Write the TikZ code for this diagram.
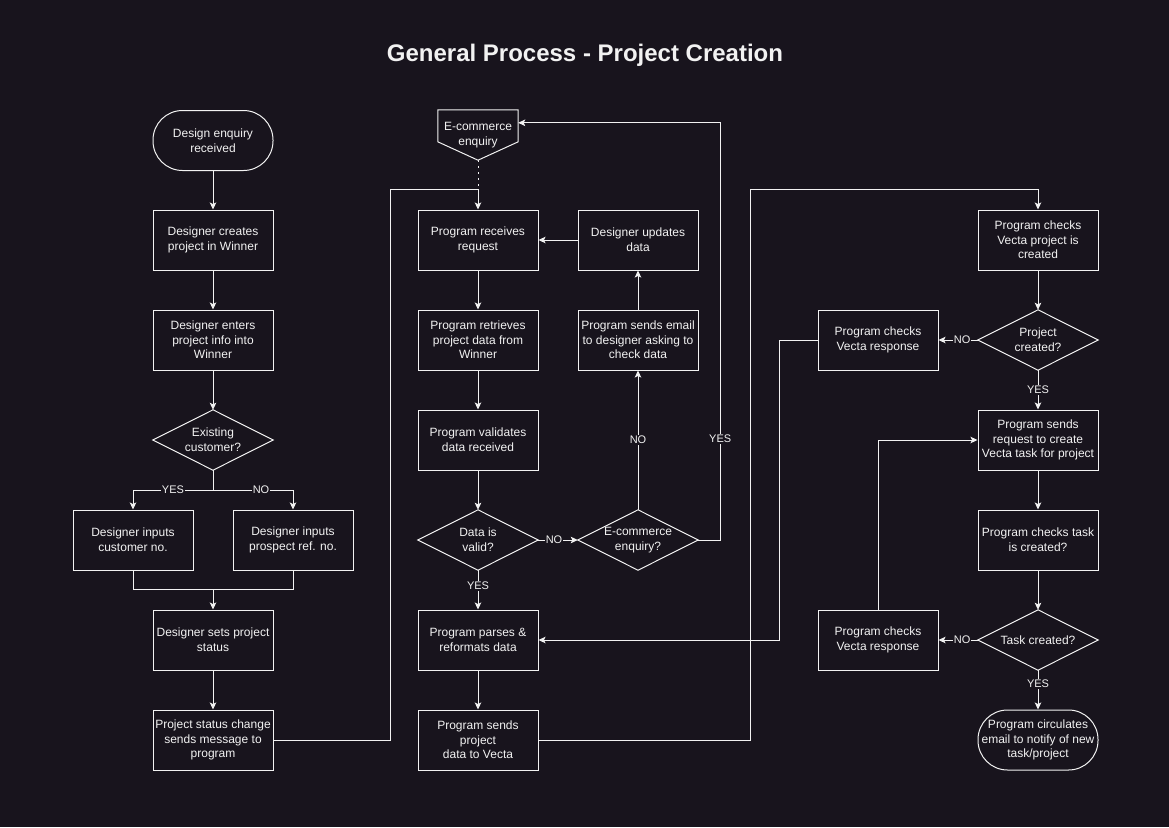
\documentclass[tikz,border=0pt]{standalone}
\usepackage{fontspec}
\setmainfont{Liberation Sans}
\usetikzlibrary{arrows.meta,calc}
\definecolor{bg}{HTML}{18141D}
\definecolor{fg}{HTML}{F2F2F2}
\begin{document}
\begin{tikzpicture}[x=1pt,y=-1pt,
  every node/.style={text=fg, font=\fontsize{12}{14.6}\selectfont},
  box/.style={draw=fg, line width=1pt, rectangle, minimum width=120pt, minimum height=60pt, inner sep=1pt, align=center},
  term/.style={box, rounded corners=29.5pt},
  dia/.style={rectangle, minimum width=120pt, minimum height=60pt, inner sep=0pt, align=center},
  frame/.style={draw=fg, line width=1pt},
  conn/.style={draw=fg, line width=1pt, -{Stealth[length=7pt,width=6.5pt,inset=1.5pt]}},
  lbl/.style={fill=bg, inner sep=1pt, font=\fontsize{11}{12}\selectfont}
]
\fill[bg] (0,0) rectangle (1169,827);
\useasboundingbox (0,0) rectangle (1169,827);

\node[font=\bfseries\fontsize{24}{28}\selectfont] (title) at (585,55) {General Process - Project Creation};

% column 1
\node[term] (start) at (213,140.5) {Design enquiry\\received};
\node[box] (create) at (213,240) {Designer creates\\project in Winner};
\node[box] (enter) at (213,340) {Designer enters\\project info into\\Winner};
\node[dia] (d1) at (213,440) {Existing\\customer?};
\node[box] (cust) at (133,540) {Designer inputs\\customer no.};
\node[box] (prosp) at (293,540) {Designer inputs\\prospect ref. no.};
\node[box] (status) at (213,640) {Designer sets project\\status};
\node[box] (change) at (213,740) {Project status change\\sends message to\\program};

% column 2
\node[rectangle, minimum width=80pt, minimum height=50pt, inner sep=0pt, align=center] (ec) at (478,135) {E-commerce\\enquiry};
\node[box] (recv) at (478,240) {Program receives\\request};
\node[box] (upd) at (638,240) {Designer updates\\data};
\node[box] (retr) at (478,340) {Program retrieves\\project data from\\Winner};
\node[box] (mail) at (638,340) {Program sends email\\to designer asking to\\check data};
\node[box] (valid) at (478,440) {Program validates\\data received};
\node[dia] (d2) at (478,540) {Data is\\valid?};
\node[dia] (d3) at (638,540) {E-commerce\\enquiry?};
\node[box] (parse) at (478,640) {Program parses \&\\reformats data};
\node[box] (send) at (478,740) {Program sends\\project\\data to Vecta};

% column 3
\node[box] (vchk) at (1038,240) {Program checks\\Vecta project is\\created};
\node[dia] (d4) at (1038,340) {Project\\created?};
\node[box] (resp1) at (878,340) {Program checks\\Vecta response};
\node[box] (req) at (1038,440) {Program sends\\request to create\\Vecta task for project};
\node[box] (tchk) at (1038,540) {Program checks task\\is created?};
\node[dia] (d5) at (1038,640) {Task created?};
\node[box] (resp2) at (878,640) {Program checks\\Vecta response};
\node[term] (final) at (1038,740) {Program circulates\\email to notify of new\\task/project};

% diamonds
\foreach \n in {d1,d2,d3,d4,d5}
  \draw[frame] (\n.north) -- (\n.east) -- (\n.south) -- (\n.west) -- cycle;
% off-page connector
\draw[frame] (ec.north west) -- (ec.north east) -- ($(ec.north east)+(0,32)$) -- (ec.south) -- ($(ec.north west)+(0,32)$) -- cycle;

% connectors column 1
\draw[conn] (start) -- (create);
\draw[conn] (create) -- (enter);
\draw[conn] (enter) -- (d1.north);
\draw[conn] (d1.south) -- ++(0,20) -| node[lbl, pos=0.25]{YES} (cust.north);
\draw[conn] (d1.south) -- ++(0,20) -| node[lbl, pos=0.3]{NO} (prosp.north);
\coordinate (m) at ($(status.north)+(0,-20)$);
\draw[frame] (cust.south) |- (m) -| (prosp.south);
\draw[conn] (m) -- (status.north);
\draw[conn] (status) -- (change);
\coordinate (jn) at ($(recv.north)+(0,-20)$);
\draw[conn] (change.east) -- ++(117,0) |- (jn) -- (recv.north);

% column 2
\draw[frame, dash pattern=on 2pt off 4pt] (ec.south) -- (jn);
\draw[conn] (upd) -- (recv);
\draw[conn] (recv) -- (retr);
\draw[conn] (retr) -- (valid);
\draw[conn] (valid) -- (d2.north);
\draw[conn] (d2.east) -- node[lbl, pos=0.4]{NO} (d3.west);
\draw[conn] (d2.south) -- node[lbl, pos=0.4]{YES} (parse.north);
\draw[conn] (d3.north) -- node[lbl]{NO} (mail.south);
\draw[conn] (mail) -- (upd);
\draw[conn] (d3.east) -- ++(22,0) |- node[lbl, pos=0.121]{YES} ($(ec.north east)+(0,13)$);
\draw[conn] (parse) -- (send);
\draw[conn] (send.east) -- ++(212,0) |- ($(vchk.north)+(0,-20)$) -- (vchk.north);

% column 3
\draw[conn] (vchk) -- (d4.north);
\draw[conn] (d4.south) -- node[lbl]{YES} (req.north);
\draw[conn] (d4.west) -- node[lbl, pos=0.4]{NO} (resp1.east);
\draw[conn] (resp1.west) -- ++(-38,0) |- (parse.east);
\draw[conn] (req) -- (tchk);
\draw[conn] (tchk) -- (d5.north);
\draw[conn] (d5.west) -- node[lbl, pos=0.4]{NO} (resp2.east);
\draw[conn] (d5.south) -- node[lbl, pos=0.35]{YES} (final.north);
\draw[conn] (resp2.north) |- (req.west);
\end{tikzpicture}
\end{document}
